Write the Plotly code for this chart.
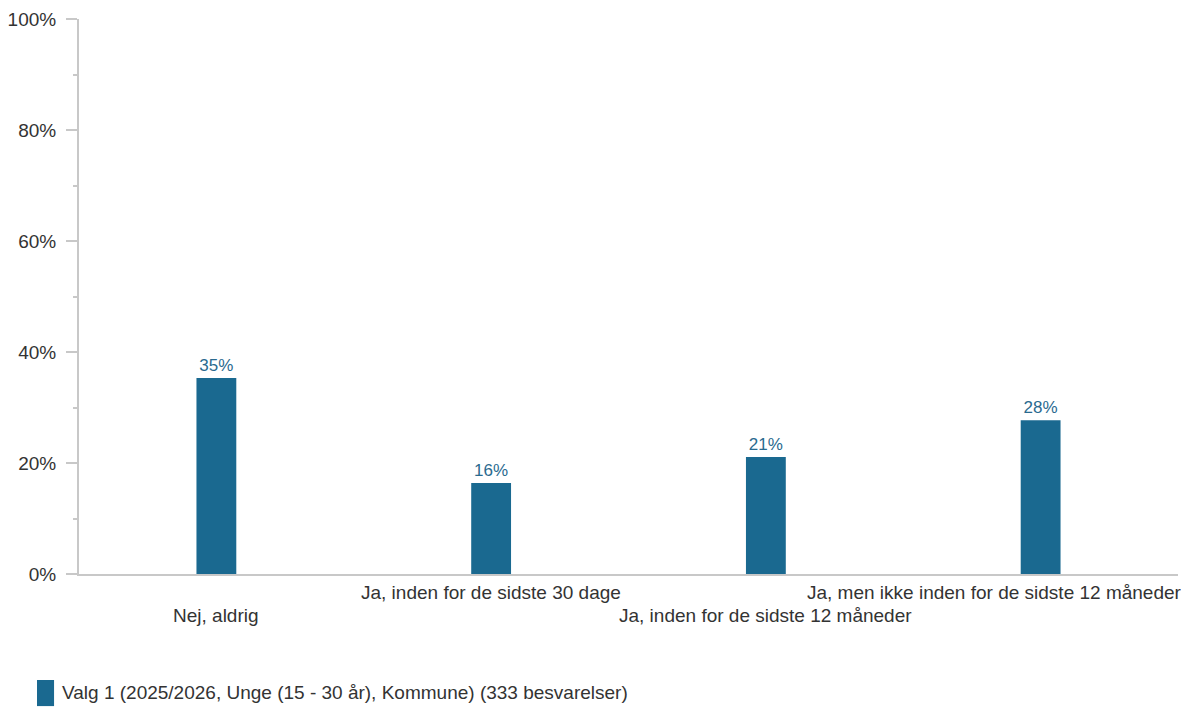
import plotly.graph_objects as go

categories = ["Nej, aldrig", "Ja, inden for de sidste 30 dage",
              "Ja, inden for de sidste 12 måneder",
              "Ja, men ikke inden for de sidste 12 måneder"]
values = [35.3, 16.4, 21.1, 27.7]
value_labels = ["35%", "16%", "21%", "28%"]
series_name = "Valg 1 (2025/2026, Unge (15 - 30 år), Kommune) (333 besvarelser)"
y_ticks = [0, 20, 40, 60, 80, 100]
y_tick_labels = ["0%", "20%", "40%", "60%", "80%", "100%"]

BAR = "#1a6990"
AXIS = "#c8c8c8"
TXT = "#333333"
FONT = "Liberation Sans, Arial, sans-serif"

fig = go.Figure()
fig.add_trace(go.Bar(
    x=categories, y=values, text=value_labels, textposition="outside",
    textfont=dict(size=17, color="#2a6a8f", family=FONT),
    marker=dict(color=BAR, line=dict(width=0)),
    width=0.145, cliponaxis=False, showlegend=False, name=series_name,
))

# staggered category labels
label_rows = [-0.074, -0.034, -0.074, -0.034]
shifts = [0, 0, 0, -46]
for c, r, s in zip(categories, label_rows, shifts):
    fig.add_annotation(x=c, y=r, xref="x", yref="paper", text=c, showarrow=False,
                       xanchor="center", yanchor="middle", xshift=s,
                       font=dict(size=19, color=TXT, family=FONT))

# legend
fig.add_shape(type="rect", xref="paper", yref="paper",
              x0=-0.0382, x1=-0.0227, y0=-0.238, y1=-0.191,
              fillcolor=BAR, line=dict(width=0))
fig.add_annotation(xref="paper", yref="paper", x=-0.0173, y=-0.214, text=series_name,
                   showarrow=False, xanchor="left", yanchor="middle",
                   font=dict(size=19, color=TXT, family=FONT))

fig.update_layout(
    width=1181, height=699,
    margin=dict(l=71, r=11, t=11, b=133, autoexpand=False),
    paper_bgcolor="white", plot_bgcolor="white",
    font=dict(family=FONT, size=19, color=TXT),
    xaxis=dict(showticklabels=False, showline=True, linecolor=AXIS, linewidth=2,
               ticks="", showgrid=False, zeroline=False, range=[-0.5, 3.5],
               automargin=False),
    yaxis=dict(range=[0, 100], tickvals=y_ticks, ticktext=y_tick_labels,
               showline=True, linecolor=AXIS, linewidth=2, ticks="outside",
               ticklen=11, tickwidth=2, tickcolor=AXIS, showgrid=False,
               zeroline=False, ticklabelstandoff=6, automargin=False,
               minor=dict(dtick=10, ticks="outside", ticklen=4, tickwidth=2,
                          tickcolor=AXIS, showgrid=False),
               tickfont=dict(size=19, color=TXT, family=FONT)),
)

fig.write_html("out.html")
